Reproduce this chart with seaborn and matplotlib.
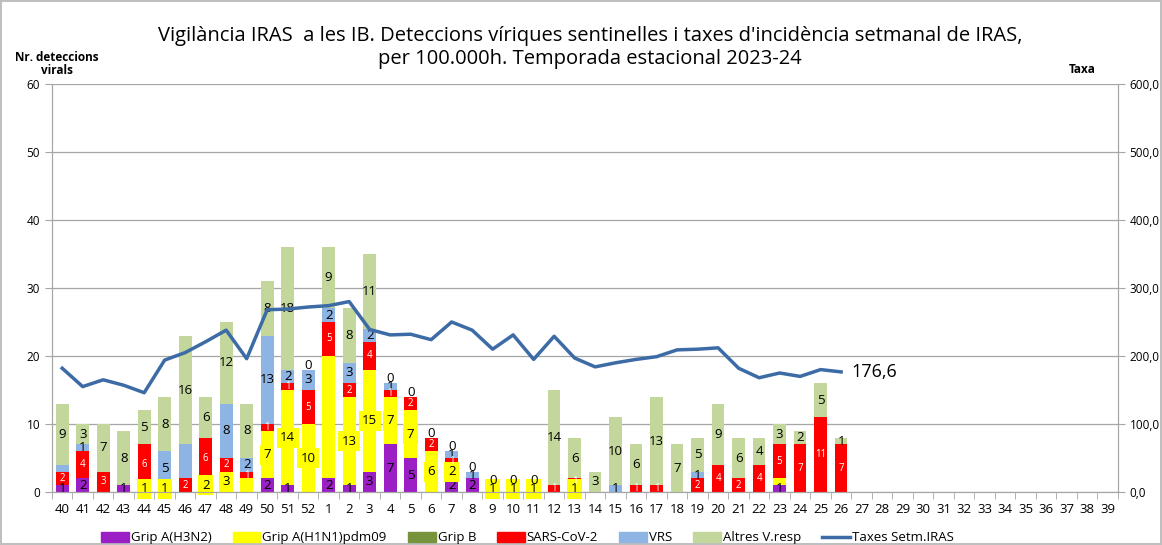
import numpy as np
import pandas as pd
import matplotlib
matplotlib.use('Agg')
import matplotlib.pyplot as plt
import matplotlib.patches as mpatches
import matplotlib.lines as mlines
import seaborn as sns

# Weeks of the season (40..52, then 1..39)
weeks = [str(w) for w in list(range(40, 53)) + list(range(1, 40))]

# Weeks with data (40..52, 1..26)
data_weeks = [str(w) for w in list(range(40, 53)) + list(range(1, 27))]

h3n2 = [1, 2, 0, 1, 0, 0, 0, 0, 0, 0, 2, 1, 0,
        2, 1, 3, 7, 5, 0, 2, 2, 0, 0, 0, 0, 0, 0, 0, 0, 0, 0, 0, 0, 0, 0, 1, 0, 0, 0]
h1n1 = [0, 0, 0, 0, 1, 1, 0, 2, 3, 2, 7, 14, 10,
        18, 13, 15, 7, 7, 6, 2, 0, 1, 1, 1, 0, 1, 0, 0, 0, 0, 0, 0, 0, 0, 0, 1, 0, 0, 0]
grip_b = [0] * 39
sars = [2, 4, 3, 0, 6, 0, 2, 6, 2, 1, 1, 1, 5,
        5, 2, 4, 1, 2, 2, 1, 0, 0, 0, 0, 1, 1, 0, 0, 1, 1, 0, 2, 4, 2, 4, 5, 7, 11, 7]
vrs = [1, 1, 0, 0, 0, 5, 5, 0, 8, 2, 13, 2, 3,
       2, 3, 2, 1, 0, 0, 1, 1, 0, 0, 0, 0, 0, 0, 1, 0, 0, 0, 1, 0, 0, 0, 0, 0, 0, 0]
altres = [9, 3, 7, 8, 5, 8, 16, 6, 12, 8, 8, 18, 0,
          9, 8, 11, 0, 0, 0, 0, 0, 0, 0, 0, 14, 6, 3, 10, 6, 13, 7, 5, 9, 6, 4, 3, 2, 5, 1]

# Weekly IRAS incidence rate per 100.000h
taxa = [182, 155, 165, 157, 146, 194, 205, 221, 238, 196, 268, 269, 272,
        274, 280, 239, 231, 232, 224, 250, 238, 210, 231, 195, 229, 197, 184, 190,
        195, 199, 209, 210, 212, 182, 168, 175, 170, 180, 176.6]

# Weeks where Excel shows a "0" label on top of the stack
zero_label_weeks = ['52', '4', '5', '6', '7', '8', '9', '10', '11']
# Labels hidden in the original chart
hidden_labels = [('40', 'VRS'), ('46', 'VRS'), ('1', 'Grip A(H1N1)pdm09'),
                 ('49', 'Grip A(H1N1)pdm09'), ('23', 'Grip A(H1N1)pdm09')]

series = [
    ('Grip A(H3N2)', h3n2, '#9B1FC4', 'black'),
    ('Grip A(H1N1)pdm09', h1n1, '#FFFF00', 'black'),
    ('Grip B', grip_b, '#77933C', 'black'),
    ('SARS-CoV-2', sars, '#FF0000', 'white'),
    ('VRS', vrs, '#8EB4E3', 'black'),
    ('Altres V.resp', altres, '#C3D69B', 'black'),
]

plt.rcParams['font.family'] = ['Open Sans', 'DejaVu Sans']

fig = plt.figure(figsize=(11.62, 5.45), dpi=100)
fig.patch.set_edgecolor('#BFBFBF')
fig.patch.set_linewidth(1.5)
ax = fig.add_axes([0.0447, 0.0972, 0.9173, 0.7488])

# Stacked bars: draw cumulative sums from top layer down
cum = np.zeros(len(data_weeks))
cums = []
for name, vals, color, tc in series:
    bottom = cum.copy()
    cum = cum + np.array(vals)
    cums.append((name, vals, color, tc, bottom, cum.copy()))

for name, vals, color, tc, bottom, top in reversed(cums):
    df = pd.DataFrame({'week': data_weeks, 'value': top})
    sns.barplot(data=df, x='week', y='value', order=weeks, color=color,
                width=0.62, saturation=1, ax=ax, zorder=2)

pos = {w: i for i, w in enumerate(weeks)}

# Segment labels
for name, vals, color, tc, bottom, top in cums:
    for j, w in enumerate(data_weeks):
        v = vals[j]
        if v == 0 or (w, name) in hidden_labels:
            continue
        y = bottom[j] + v / 2
        if name == 'SARS-CoV-2':
            ax.text(pos[w], y, str(v), ha='center', va='center', color='white',
                    fontsize=7, zorder=6)
        elif name == 'Grip A(H1N1)pdm09':
            ax.text(pos[w], y, str(v), ha='center', va='center', color='black',
                    fontsize=9.5, zorder=5,
                    bbox=dict(facecolor='#FFFF00', edgecolor='none', pad=2.5))
        else:
            ax.text(pos[w], y, str(v), ha='center', va='center', color='black',
                    fontsize=9.5, zorder=5)

totals = cums[-1][5]
for w in zero_label_weeks:
    j = data_weeks.index(w)
    ax.text(pos[w], totals[j] - 0.3, '0', ha='center', va='bottom',
            color='black', fontsize=9.5, zorder=5)

ax.set_xlim(-0.5, len(weeks) - 0.5)
ax.set_ylim(0, 60)
ax.set_yticks(range(0, 61, 10))
ax.set_xlabel('')
ax.set_ylabel('')
ax.grid(axis='y', color='#A6A6A6', linewidth=0.9, zorder=0)
ax.set_axisbelow(True)
ax.tick_params(axis='x', which='major', length=0, labelsize=9.5, pad=8)
ax.set_xticks(np.arange(-0.5, len(weeks), 1), minor=True)
ax.tick_params(axis='x', which='minor', length=5, color='#A6A6A6')
ax.tick_params(axis='y', length=5, color='#A6A6A6', labelsize=8.5)
ax.spines['top'].set_visible(False)
for s in ['left', 'bottom', 'right']:
    ax.spines[s].set_color('#A6A6A6')

# Incidence rate line on secondary axis
ax2 = ax.twinx()
line_df = pd.DataFrame({'x': [pos[w] for w in data_weeks], 'taxa': taxa})
sns.lineplot(data=line_df, x='x', y='taxa', color='#3C6BA5', linewidth=2.5, ax=ax2)
ax2.set_ylim(0, 600)
ax2.set_yticks(range(0, 601, 100))
ax2.set_yticklabels([f'{v},0' for v in range(0, 601, 100)])
ax2.tick_params(axis='y', length=5, color='#A6A6A6', labelsize=8.5)
ax2.set_ylabel('')
ax2.spines['top'].set_visible(False)
for s in ['left', 'bottom', 'right']:
    ax2.spines[s].set_color('#A6A6A6')
ax2.text(pos[data_weeks[-1]] + 0.5, taxa[-1], '176,6', ha='left', va='center', fontsize=13)

fig.text(0.508, 0.912,
         "Vigilància IRAS  a les IB. Deteccions víriques sentinelles i taxes d'incidència setmanal de IRAS,\nper 100.000h. Temporada estacional 2023-24",
         ha='center', va='center', fontsize=14.5, linespacing=1.2)
fig.text(0.049, 0.882, 'Nr. deteccions\nvirals', ha='center', va='center',
         fontsize=8.5, fontweight='bold', linespacing=1.0)
fig.text(0.931, 0.872, 'Taxa', ha='center', va='center', fontsize=8.5, fontweight='bold')

handles = [mpatches.Patch(color=c, label=n) for n, v, c, tc in series]
handles.append(mlines.Line2D([], [], color='#3C6BA5', linewidth=2.5, label='Taxes Setm.IRAS'))
fig.legend(handles=handles, loc='center', bbox_to_anchor=(0.454, 0.013), ncol=7,
           frameon=False, fontsize=9.5, handlelength=2.1, handleheight=0.8,
           handletextpad=0.15, columnspacing=1.6)

fig.savefig('out.png', dpi=100)
